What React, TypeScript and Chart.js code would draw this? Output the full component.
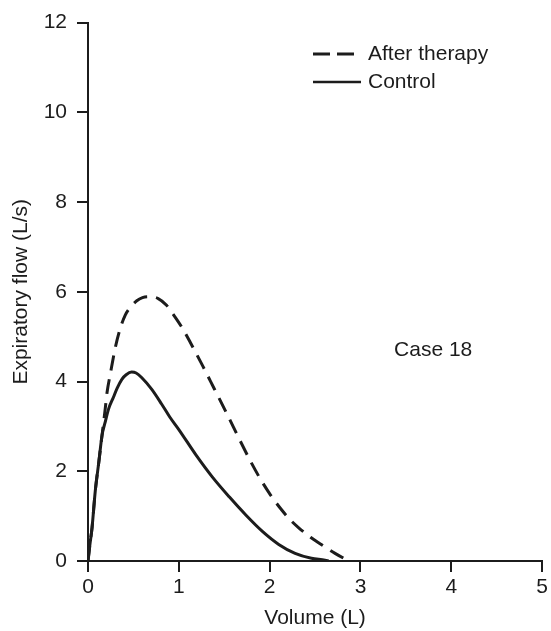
import React, { useEffect, useRef } from 'react';
import { Chart, registerables } from 'chart.js';

Chart.register(...registerables);

// Control (solid) flow-volume curve
const controlVolume = [0, 0.02, 0.045, 0.08, 0.12, 0.155, 0.19, 0.227, 0.28, 0.32, 0.373, 0.42, 0.48, 0.53, 0.59, 0.7, 0.81, 0.9, 1.0, 1.19, 1.37, 1.555, 1.74, 1.92, 2.1, 2.28, 2.46, 2.61, 2.65];
const controlFlow = [0, 0.35, 0.75, 1.56, 2.22, 2.81, 3.1, 3.39, 3.65, 3.85, 4.05, 4.15, 4.21, 4.19, 4.09, 3.83, 3.5, 3.21, 2.93, 2.36, 1.87, 1.43, 1.02, 0.66, 0.37, 0.17, 0.06, 0.02, 0];

// After therapy (dashed) flow-volume curve
const afterVolume = [0, 0.02, 0.045, 0.08, 0.12, 0.155, 0.19, 0.21, 0.245, 0.3, 0.35, 0.41, 0.47, 0.537, 0.6, 0.664, 0.773, 0.865, 0.92, 1.03, 1.14, 1.26, 1.39, 1.537, 1.665, 1.79, 1.9, 2.01, 2.12, 2.22, 2.32, 2.45, 2.59, 2.72, 2.87];
const afterFlow = [0, 0.35, 0.75, 1.56, 2.22, 2.81, 3.4, 3.76, 4.16, 4.75, 5.15, 5.48, 5.66, 5.8, 5.87, 5.89, 5.85, 5.7, 5.55, 5.22, 4.82, 4.36, 3.84, 3.25, 2.72, 2.22, 1.82, 1.47, 1.17, 0.93, 0.74, 0.53, 0.34, 0.17, 0];

const xTickValues = [0, 1, 2, 3, 4, 5];
const yTickValues = [0, 2, 4, 6, 8, 10, 12];
const seriesNames = ['After therapy', 'Control'];
const annotationText = 'Case 18';
const annotationPos = [3.8, 4.7];
const xTitle = 'Volume (L)';
const yTitle = 'Expiratory flow (L/s)';

const FONT = "'Liberation Sans', Arial, Helvetica, sans-serif";
const INK = '#1c1c1c';

export default function App() {
  const ref = useRef<HTMLCanvasElement>(null);

  useEffect(() => {
    if (!ref.current) return;

    const overlay = {
      id: 'overlay',
      afterDraw(chart: any) {
        const { ctx } = chart;
        const xs = chart.scales.x;
        const ys = chart.scales.y;
        ctx.save();
        ctx.font = `21px ${FONT}`;
        ctx.fillStyle = INK;
        ctx.strokeStyle = INK;
        ctx.textBaseline = 'middle';
        const items = [
          { label: seriesNames[0], dash: [17, 7], width: 3, y: 54 },
          { label: seriesNames[1], dash: [] as number[], width: 2.5, y: 82 },
        ];
        items.forEach((it) => {
          ctx.beginPath();
          ctx.setLineDash(it.dash);
          ctx.lineWidth = it.width;
          ctx.moveTo(313, it.y);
          ctx.lineTo(361, it.y);
          ctx.stroke();
          ctx.setLineDash([]);
          ctx.textAlign = 'left';
          ctx.fillText(it.label, 368, it.y);
        });
        ctx.textAlign = 'center';
        ctx.fillText(annotationText, xs.getPixelForValue(annotationPos[0]), ys.getPixelForValue(annotationPos[1]));
        ctx.restore();
      },
    };

    const tickFont = { family: FONT, size: 21 };

    const chart = new Chart(ref.current, {
      type: 'line',
      data: {
        datasets: [
          {
            label: seriesNames[0],
            data: afterVolume.map((v, i) => ({ x: v, y: afterFlow[i] })),
            borderColor: INK,
            borderWidth: 3,
            borderDash: [15, 9],
            pointRadius: 0,
            fill: false,
            cubicInterpolationMode: 'monotone',
          },
          {
            label: seriesNames[1],
            data: controlVolume.map((v, i) => ({ x: v, y: controlFlow[i] })),
            borderColor: INK,
            borderWidth: 3,
            pointRadius: 0,
            fill: false,
            cubicInterpolationMode: 'monotone',
          },
        ],
      },
      options: {
        animation: false,
        responsive: false,
        layout: { padding: { top: 15, right: 6, bottom: 0, left: 0 } },
        plugins: {
          legend: { display: false },
          tooltip: { enabled: false },
        },
        scales: {
          x: {
            type: 'linear',
            min: 0,
            max: 5,
            afterBuildTicks: (scale: any) => {
              scale.ticks = xTickValues.map((v) => ({ value: v }));
            },
            afterFit: (scale: any) => {
              scale.height = 70;
            },
            ticks: { font: tickFont, color: INK, padding: 3 },
            grid: { drawOnChartArea: false, drawTicks: true, tickLength: 11, lineWidth: 2, color: INK },
            border: { display: true, width: 2, color: INK },
            title: { display: true, text: xTitle, font: tickFont, color: INK, padding: { top: 0, bottom: 0 } },
          },
          y: {
            type: 'linear',
            min: 0,
            max: 12,
            afterBuildTicks: (scale: any) => {
              scale.ticks = yTickValues.map((v) => ({ value: v }));
            },
            afterFit: (scale: any) => {
              scale.width = 88;
            },
            ticks: { font: tickFont, color: INK, padding: 10 },
            grid: { drawOnChartArea: false, drawTicks: true, tickLength: 11, lineWidth: 2, color: INK },
            border: { display: true, width: 2, color: INK },
            title: { display: true, text: yTitle, font: tickFont, color: INK, padding: { top: 9, bottom: 0 } },
          },
        },
      },
      plugins: [overlay],
    } as any);

    return () => chart.destroy();
  }, []);

  return (
    <div style={{ position: 'fixed', left: 0, top: 0, width: 551, height: 631, background: '#fff' }}>
      <canvas ref={ref} width={551} height={631} style={{ display: 'block' }} />
    </div>
  );
}
